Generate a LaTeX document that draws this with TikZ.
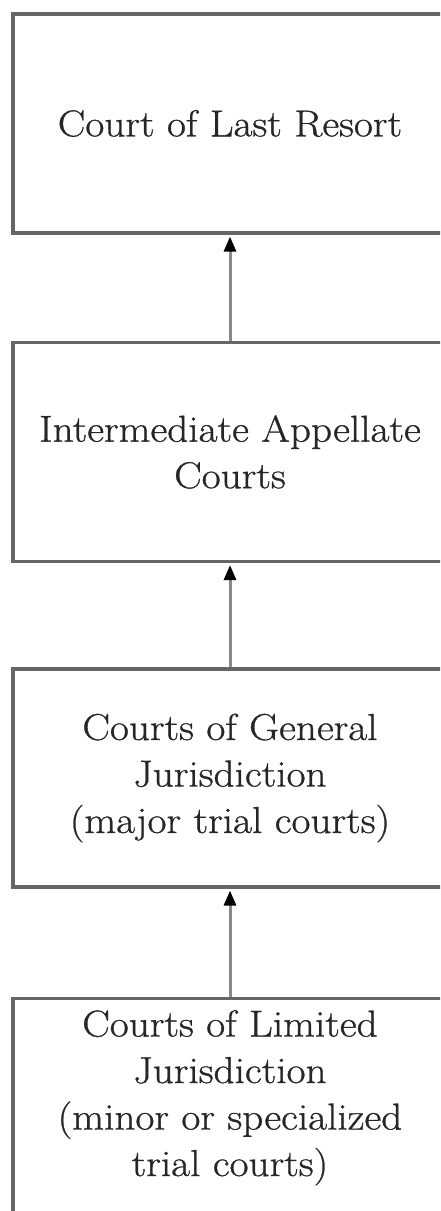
\documentclass[tikz,border=0pt]{standalone}
\usepackage{fontspec}
\setmainfont{Latin Modern Roman}[FakeStretch=1.1, FakeBold=0.8]
\usetikzlibrary{arrows.meta}
\definecolor{boxline}{HTML}{666666}
\definecolor{arrline}{HTML}{888888}
\definecolor{txt}{HTML}{262626}
\begin{document}
\begin{tikzpicture}[x=1pt,y=1pt,
  courtbox/.style={draw=boxline, line width=3.2pt, rectangle, minimum width=434pt,
    inner sep=0pt, align=center, text=txt,
    font=\fontsize{37.5}{46.5}\selectfont},
  courttext/.style={align=center, text=txt, inner sep=0pt,
    font=\fontsize{37.5}{46.5}\selectfont},
  uparrow/.style={draw=arrline, line width=3pt,
    -{Triangle[length=15pt,width=12pt,color=black,fill=black]}, shorten >=2pt}
]
\useasboundingbox (0,0) rectangle (440,1211);
\clip (0,0) rectangle (440,1211);
\node[courtbox, minimum height=219pt] (b1) at (230,1087.5) {Court of Last Resort};
\node[courtbox, minimum height=219pt] (b2) at (230,759) {Intermediate Appellate\\Courts};
\node[courtbox, minimum height=218pt] (b3) at (230,433) {Courts of General\\Jurisdiction\\(major trial courts)};
\node[courtbox, minimum height=300pt, anchor=north] (b4) at (230,214) {};
\node[courttext, anchor=north] (t4) at (230,201) {Courts of Limited\\Jurisdiction\\(minor or specialized\\trial courts)};
\draw[uparrow] (b2.north) -- (b1.south);
\draw[uparrow] (b3.north) -- (b2.south);
\draw[uparrow] (b4.north) -- (b3.south);
\end{tikzpicture}
\end{document}
